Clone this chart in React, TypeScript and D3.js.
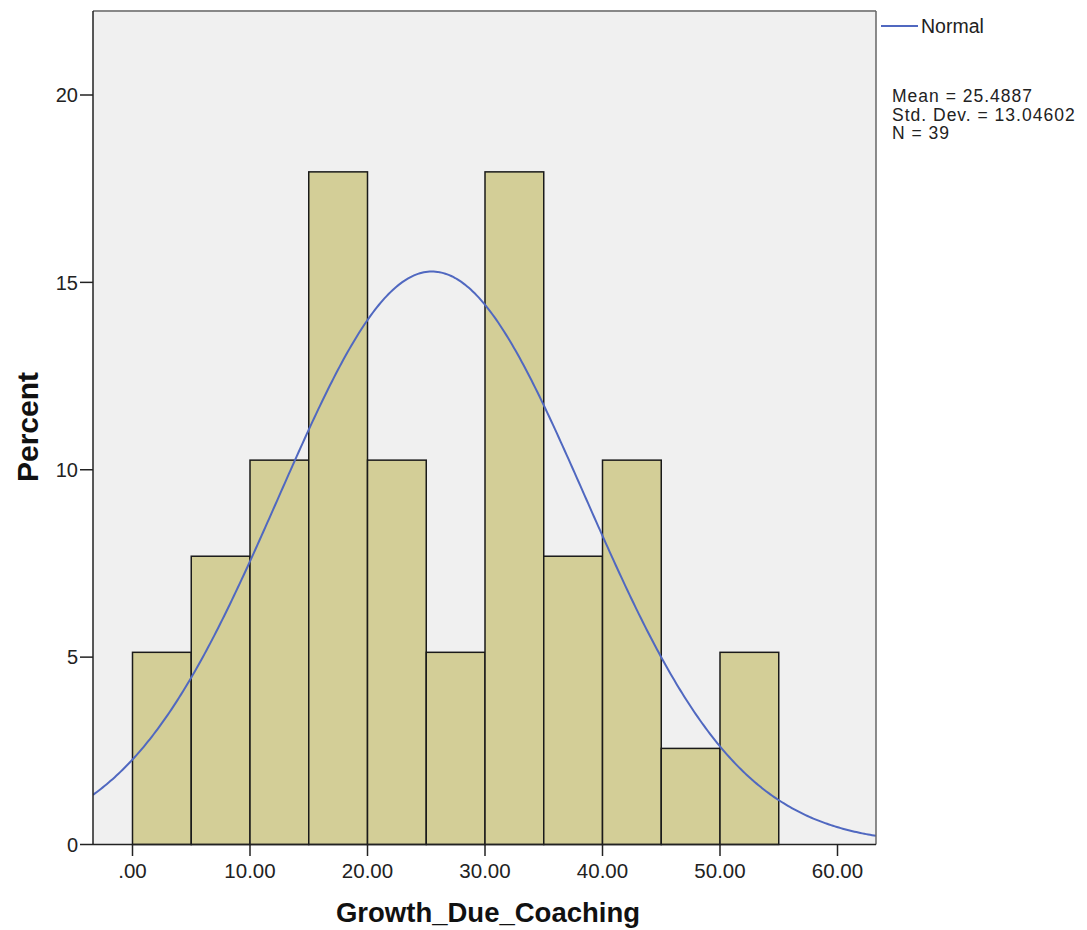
import React from "react";
import * as d3 from "d3";

const binStarts = [0, 5, 10, 15, 20, 25, 30, 35, 40, 45, 50];
const binWidth = 5;
const counts = [2, 3, 4, 7, 4, 2, 7, 3, 4, 1, 2];
const N = 39;
const mean = 25.4887;
const sd = 13.04602;
const xTicks = [0, 10, 20, 30, 40, 50, 60];
const xTickLabels = [".00", "10.00", "20.00", "30.00", "40.00", "50.00", "60.00"];
const yTicks = [0, 5, 10, 15, 20];
const statLines = ["Mean = 25.4887", "Std. Dev. = 13.04602", "N = 39"];

const W = 1087, H = 930;
const L = 93, R = 876, T = 11, B = 844.5;

export default function App() {
  const x = d3.scaleLinear().domain([0, 60]).range([132.5, 837.5]);
  const y = d3.scaleLinear().domain([0, 20]).range([B, 95]);
  const xMin = x.invert(L), xMax = x.invert(R);
  const pdfPct = (v: number) =>
    (100 * binWidth) / (sd * Math.sqrt(2 * Math.PI)) * Math.exp(-((v - mean) ** 2) / (2 * sd * sd));
  const pts = d3.range(0, 401).map((i) => xMin + ((xMax - xMin) * i) / 400);
  const line = d3.line<number>().x((v) => x(v)).y((v) => y(pdfPct(v)))(pts) || "";
  const font = "'Liberation Sans', Arial, sans-serif";
  return (
    <svg width={W} height={H} style={{ position: "absolute", left: 0, top: 0 }} fontFamily={font}>
      <rect x={0} y={0} width={W} height={H} fill="#fff" />
      <rect x={L} y={T} width={R - L} height={B - T} fill="#f0f0f0" />
      {counts.map((c, i) => {
        const pct = (c / N) * 100;
        return (
          <rect key={i} x={x(binStarts[i])} y={y(pct)} width={x(binStarts[i] + binWidth) - x(binStarts[i])}
            height={B - y(pct)} fill="#d3ce97" stroke="#1a1a1a" strokeWidth={1.5} />
        );
      })}
      <clipPath id="pc"><rect x={L} y={T} width={R - L} height={B - T} /></clipPath>
      <path d={line} fill="none" stroke="#5068c0" strokeWidth={2} clipPath="url(#pc)" />
      <line x1={L} x2={R} y1={T} y2={T} stroke="#888" strokeWidth={2} />
      <line x1={R} x2={R} y1={T} y2={B} stroke="#666" strokeWidth={1.5} />
      <line x1={L} x2={L} y1={T} y2={B} stroke="#222" strokeWidth={1.5} />
      <line x1={L} x2={R} y1={B} y2={B} stroke="#222" strokeWidth={1.5} />
      {yTicks.map((t) => (
        <g key={t}>
          <line x1={80} x2={L} y1={y(t)} y2={y(t)} stroke="#222" strokeWidth={1.5} />
          <text x={78} y={y(t)} dy="0.36em" textAnchor="end" fontSize={20} fill="#222">{t}</text>
        </g>
      ))}
      {xTicks.map((t, i) => (
        <g key={t}>
          <line x1={x(t)} x2={x(t)} y1={B} y2={856} stroke="#222" strokeWidth={1.5} />
          <text x={x(t)} y={878} textAnchor="middle" fontSize={20.5} fill="#222">{xTickLabels[i]}</text>
        </g>
      ))}
      <text x={488} y={922} textAnchor="middle" fontSize={27.5} fontWeight="bold" fill="#111">Growth_Due_Coaching</text>
      <text transform="translate(38,427) rotate(-90)" textAnchor="middle" fontSize={30} fontWeight="bold" fill="#111">Percent</text>
      <line x1={881} x2={918} y1={26} y2={26} stroke="#5068c0" strokeWidth={2} />
      <text x={921} y={33} fontSize={19.5} fill="#222">Normal</text>
      {statLines.map((s, i) => (
        <text key={i} x={892} y={102 + i * 18.5} fontSize={17.5} letterSpacing={1.0} fill="#222">{s}</text>
      ))}
    </svg>
  );
}
